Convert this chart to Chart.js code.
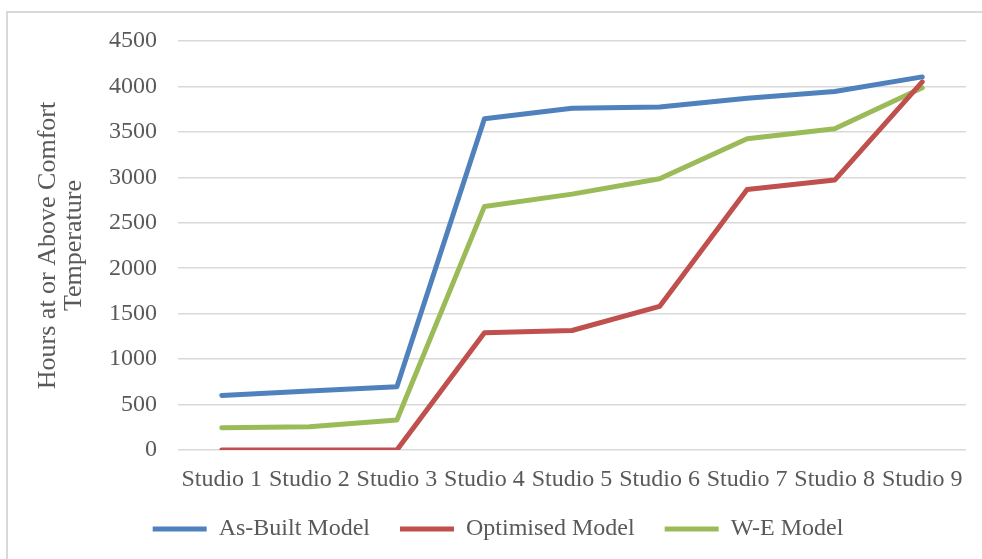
<!DOCTYPE html>
<html>
<head>
<meta charset="utf-8">
<title>Hours at or Above Comfort Temperature</title>
<script src="https://cdn.jsdelivr.net/npm/chart.js@4.4.1/dist/chart.umd.min.js"></script>
<style>
  html, body { margin: 0; padding: 0; background: #ffffff; }
  canvas { display: block; }
</style>
</head>
<body>
<canvas id="chart" width="982" height="559"></canvas>
<script>
// Studios along the horizontal axis
const studios = ['Studio 1', 'Studio 2', 'Studio 3', 'Studio 4', 'Studio 5',
                 'Studio 6', 'Studio 7', 'Studio 8', 'Studio 9'];

// Hours at or above comfort temperature, per model
const asBuilt   = [600, 650, 695, 3645, 3760, 3775, 3870, 3945, 4105];
const optimised = [0, 0, 0, 1290, 1315, 1580, 2865, 2970, 4050];
const weModel   = [245, 255, 330, 2680, 2815, 2985, 3425, 3535, 3985];

// Value axis range
const yMin = 0;
const yMax = 4500;
const yStep = 500;

const seriesNames = ['As-Built Model', 'Optimised Model', 'W-E Model'];
const seriesColors = ['#4f81bd', '#c0504d', '#9bbb59'];
const seriesValues = [asBuilt, optimised, weModel];

const textColor = '#595959';
const fontFamily = '"Liberation Serif", "Times New Roman", serif';

// Light frame around the chart
const framePlugin = {
  id: 'frame',
  beforeDraw(chart) {
    const ctx = chart.ctx;
    ctx.save();
    ctx.fillStyle = '#ffffff';
    ctx.fillRect(0, 0, chart.width, chart.height);
    ctx.strokeStyle = '#d9d9d9';
    ctx.lineWidth = 2;
    ctx.beginPath();
    ctx.moveTo(7, chart.height);
    ctx.lineTo(7, 12);
    ctx.lineTo(chart.width, 12);
    ctx.stroke();
    ctx.restore();
  }
};

new Chart(document.getElementById('chart'), {
  type: 'line',
  data: {
    labels: studios,
    datasets: seriesValues.map((values, i) => ({
      label: seriesNames[i],
      data: values,
      borderColor: seriesColors[i],
      backgroundColor: seriesColors[i],
      borderWidth: 5,
      borderCapStyle: 'round',
      borderJoinStyle: 'round',
      pointRadius: 0,
      pointHoverRadius: 0,
      tension: 0,
      fill: false
    }))
  },
  options: {
    responsive: false,
    animation: false,
    layout: {
      padding: { left: 30, top: 41, right: 16, bottom: 8 }
    },
    plugins: {
      tooltip: { enabled: false },
      legend: {
        position: 'bottom',
        align: 'center',
        labels: {
          usePointStyle: true,
          pointStyle: 'line',
          pointStyleWidth: 54,
          boxHeight: 24,
          padding: 30,
          color: textColor,
          font: { family: fontFamily, size: 24 }
        }
      }
    },
    scales: {
      x: {
        offset: true,
        grid: { display: false, drawTicks: false },
        border: { display: false },
        ticks: {
          color: textColor,
          padding: 15,
          maxRotation: 0,
          autoSkip: false,
          font: { family: fontFamily, size: 24 }
        },
        afterFit(scale) { scale.height = 37; }
      },
      y: {
        min: yMin,
        max: yMax,
        grid: { color: '#d9d9d9', lineWidth: 1.5, drawTicks: false },
        border: { display: false },
        ticks: {
          stepSize: yStep,
          color: textColor,
          padding: 21,
          font: { family: fontFamily, size: 24 },
          callback: (value) => String(value)
        },
        title: {
          display: true,
          text: ['Hours at or Above Comfort', 'Temperature'],
          color: textColor,
          padding: { top: 5, bottom: 0 },
          font: { family: fontFamily, size: 26, lineHeight: 1.0 }
        },
        afterFit(scale) { scale.width = 148; }
      }
    }
  },
  plugins: [framePlugin]
});
</script>
</body>
</html>
